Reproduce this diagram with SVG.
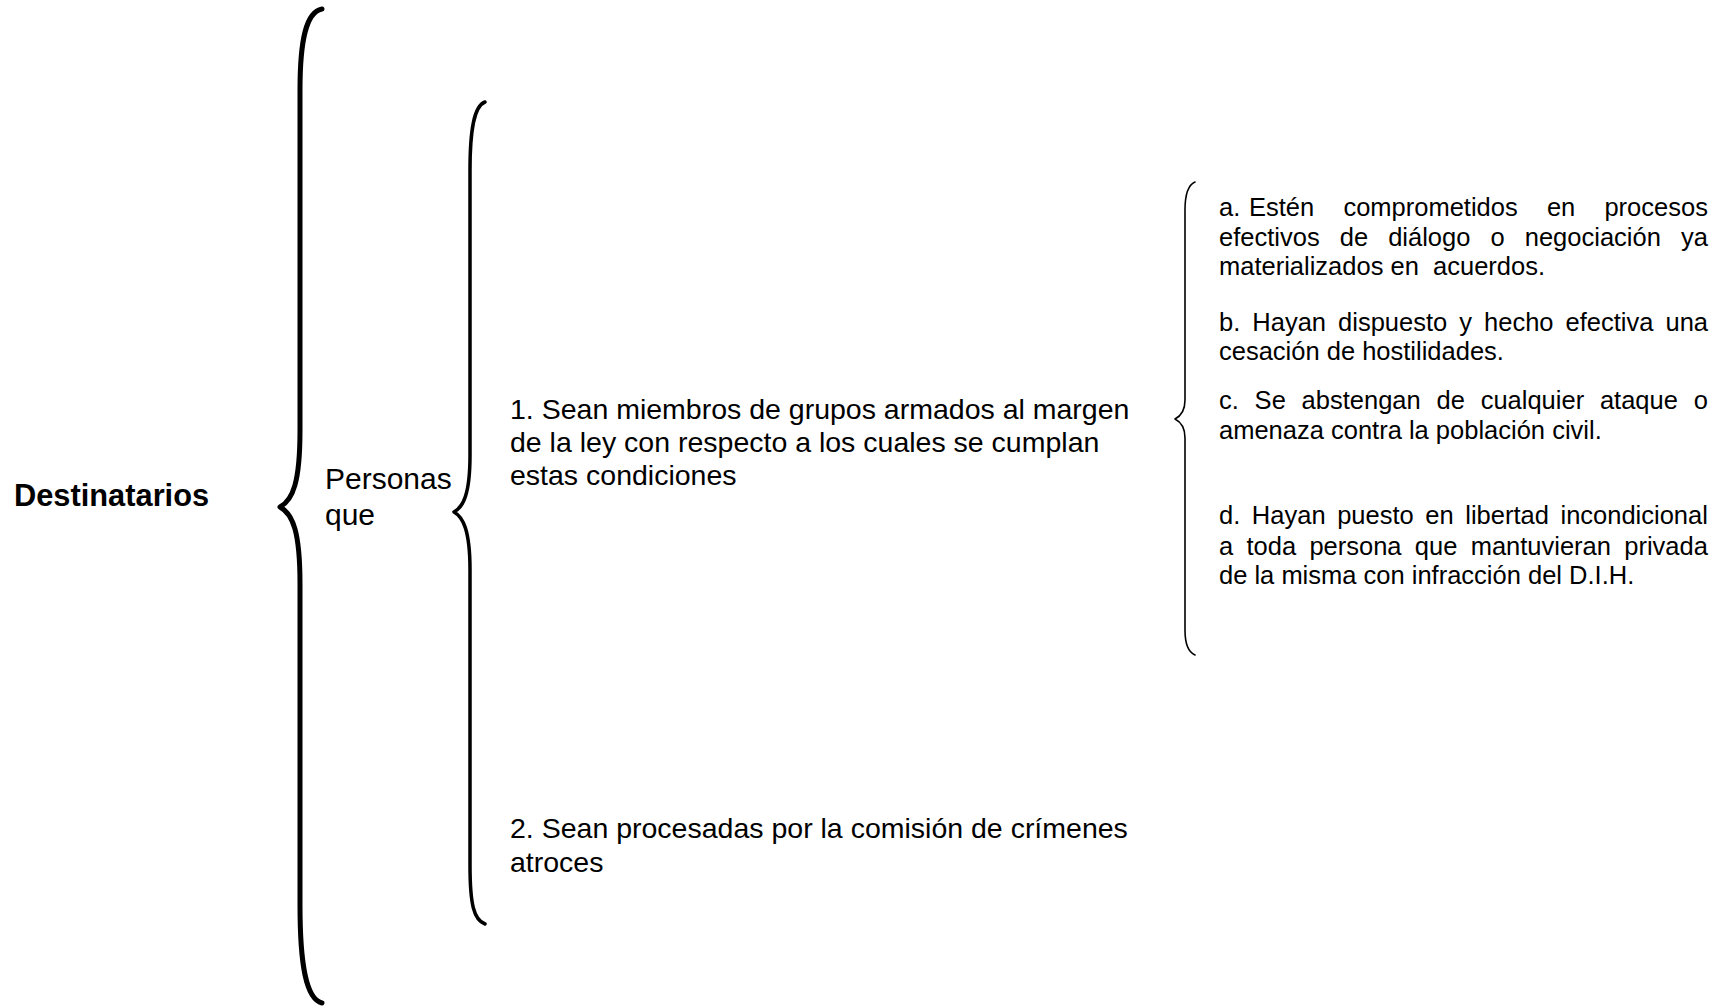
<svg xmlns="http://www.w3.org/2000/svg" width="1728" height="1008" viewBox="0 0 1728 1008">
<style>
text{font-family:"Liberation Sans",Arial,sans-serif;fill:#000}
.title{font-size:30.8px;font-weight:bold}
.mid{font-size:30px}
.item{font-size:28.5px}
.cond{font-size:25.5px}
.brace{fill:none;stroke:#000;stroke-linecap:round;stroke-linejoin:round}
</style>
<rect width="1728" height="1008" fill="#fff"/>
<g id="connectors">
<path class="brace" stroke-width="5" d="M322 9 C306 12 300 40 300 90 L300 430 C300 482 293 500 280 507 C293 514 300 532 300 584 L300 905 C300 965 306 999 322 1003"/>
<path class="brace" stroke-width="3.5" d="M485 102 C474 106 470 130 470 170 L470 455 C470 495 463 507 454 512 C463 517 470 530 470 570 L470 865 C470 905 474 920 485 924"/>
<path class="brace" stroke-width="1.6" d="M1195 182 C1188 185 1185 195 1185 210 L1185 400 C1185 410 1181 416 1175 419 C1181 422 1185 428 1185 438 L1185 630 C1185 644 1188 652 1195 655"/>
</g>
<g id="destinatarios"><text class="title" x="14" y="506">Destinatarios</text></g>
<g id="personas"><text class="mid" x="325" y="489">Personas</text><text class="mid" x="325" y="525">que</text></g>
<g id="cond1">
<text class="item" x="510" y="419">1. Sean miembros de grupos armados al margen</text>
<text class="item" x="510" y="452">de la ley con respecto a los cuales se cumplan</text>
<text class="item" x="510" y="485">estas condiciones</text>
</g>
<g id="cond2">
<text class="item" x="510" y="838">2. Sean procesadas por la comisión de crímenes</text>
<text class="item" x="510" y="872">atroces</text>
</g>
<g id="cond-a">
<text class="cond" y="216"><tspan x="1219">a.</tspan><tspan x="1249" word-spacing="22.1">Estén comprometidos en procesos</tspan></text>
<text class="cond" x="1219" y="246" word-spacing="13">efectivos de diálogo o negociación ya</text>
<text class="cond" x="1219" y="275">materializados en&#160; acuerdos.</text>
</g>
<g id="cond-b">
<text class="cond" x="1219" y="331" word-spacing="4.95">b. Hayan dispuesto y hecho efectiva una</text>
<text class="cond" x="1219" y="360">cesación de hostilidades.</text>
</g>
<g id="cond-c">
<text class="cond" x="1219" y="409" word-spacing="8.7">c. Se abstengan de cualquier ataque o</text>
<text class="cond" x="1219" y="439">amenaza contra la población civil.</text>
</g>
<g id="cond-d">
<text class="cond" x="1219" y="524" word-spacing="4.5">d. Hayan puesto en libertad incondicional</text>
<text class="cond" x="1219" y="555" word-spacing="6.2">a toda persona que mantuvieran privada</text>
<text class="cond" x="1219" y="584">de la misma con infracción del D.I.H.</text>
</g>
</svg>
